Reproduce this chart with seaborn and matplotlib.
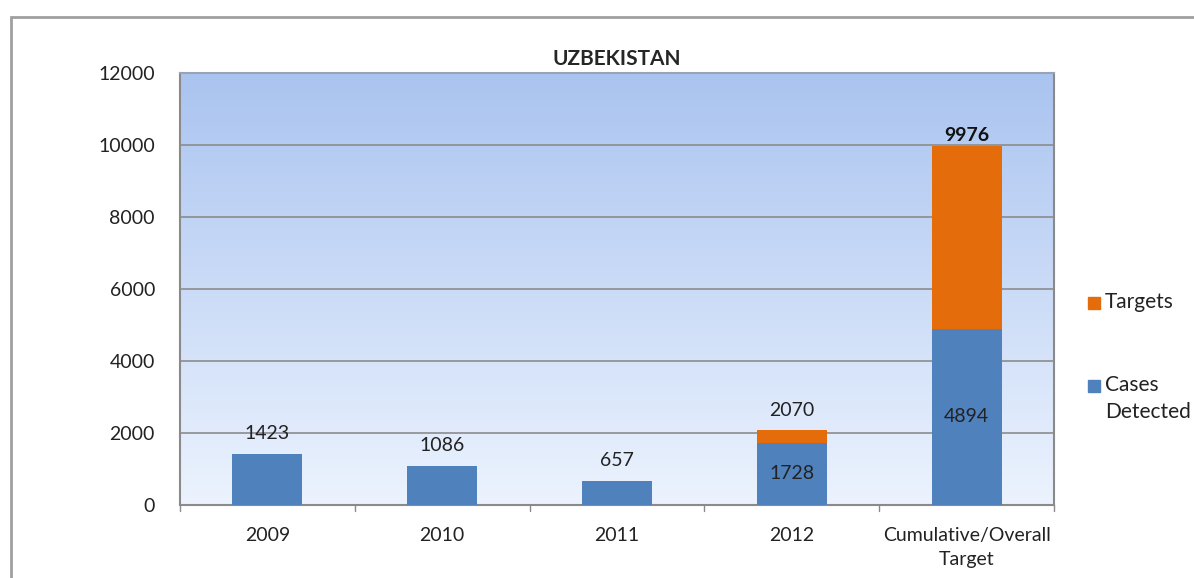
import numpy as np
import pandas as pd
import matplotlib
matplotlib.use("Agg")
import matplotlib.pyplot as plt
import seaborn as sns
from matplotlib.patches import Rectangle

categories = ["2009", "2010", "2011", "2012", "Cumulative/Overall\nTarget"]
cases_detected = [1423, 1086, 657, 1728, 4894]
totals = [1423, 1086, 657, 2070, 9976]  # top of each stacked bar (cases + targets)
series_names = ["Targets", "Cases\nDetected"]
series_colors = ["#E46C0A", "#4F81BD"]

df = pd.DataFrame({"cat": categories, "cases": cases_detected, "total": totals})

sns.set_theme(style="white")
plt.rcParams["font.family"] = ["Lato", "DejaVu Sans"]

fig = plt.figure(figsize=(11.94, 5.78), dpi=100)
ax = fig.add_axes([180 / 1194, 1 - 505 / 578, 874 / 1194, 432 / 578])

# gradient backdrop of plot area (light at bottom, darker blue at top)
grad = np.linspace(0, 1, 256).reshape(-1, 1)
top_c = np.array([170, 196, 240]) / 255
bot_c = np.array([236, 243, 254]) / 255
img = bot_c * (1 - grad[..., None]) + top_c * grad[..., None]
ax.imshow(img, extent=[-0.5, 4.5, 0, 12000], origin="lower", aspect="auto", zorder=0)

for y in range(2000, 12001, 2000):
    ax.axhline(y, color="#8c8c8c", lw=1.2, zorder=1)

sns.barplot(data=df, x="cat", y="total", color=series_colors[0], width=0.4,
            saturation=1, linewidth=0, edgecolor="none", ax=ax, zorder=2)
sns.barplot(data=df, x="cat", y="cases", color=series_colors[1], width=0.4,
            saturation=1, linewidth=0, edgecolor="none", ax=ax, zorder=3)

ax.set_xlim(-0.5, 4.5)
ax.set_ylim(0, 12000)
ax.set_yticks(range(0, 12001, 2000))
ax.set_xlabel("")
ax.set_ylabel("")
ax.tick_params(axis="both", labelsize=14, length=0)
ax.tick_params(axis="y", pad=18)
ax.tick_params(axis="x", pad=16)
for lbl in ax.get_yticklabels() + ax.get_xticklabels():
    lbl.set_color("#222222")
    lbl.set_linespacing(1.5)

for s in ax.spines.values():
    s.set_visible(True)
    s.set_color("#8a8a8a")
    s.set_linewidth(1.5)
ax.spines["top"].set_color("#9aa3b5")

# category separator ticks on the x axis
for xb in np.arange(-0.5, 4.6, 1):
    ax.plot([xb, xb], [0, -180], color="#8a8a8a", lw=1, clip_on=False, zorder=5)

# value labels
for i, (c, t) in enumerate(zip(cases_detected, totals)):
    if t == c:
        ax.text(i, c + 330, str(c), ha="center", va="bottom", fontsize=14, color="#222222", zorder=6)
    elif i < 4:
        ax.text(i, t + 330, str(t), ha="center", va="bottom", fontsize=14, color="#222222", zorder=6)
        ax.text(i, c / 2, str(c), ha="center", va="center", fontsize=14, color="#222222", zorder=6)
    else:
        ax.text(i, t + 40, str(t), ha="center", va="bottom", fontsize=14, fontweight="bold",
                color="#111111", zorder=6)
        ax.text(i, c / 2, str(c), ha="center", va="center", fontsize=14, color="#222222", zorder=6)

ax.set_title("UZBEKISTAN", fontsize=15, fontweight="bold", pad=6)

# legend, drawn by hand so that the two-line label stays left aligned
W, H = 1194, 578
for (name, col, ymid) in zip(series_names, series_colors, [303, 386]):
    fig.patches.append(Rectangle((1088 / W, 1 - (ymid + 6) / H), 12 / W, 12 / H,
                                 transform=fig.transFigure, color=col))
    fig.text(1105 / W, 1 - (ymid - 11) / H, name, ha="left", va="top", fontsize=15,
             color="#222222", linespacing=1.45)

# outer chart border
fig.patches.append(Rectangle((11 / W, -0.05), 1.1, 1 - 17 / H + 0.05,
                             transform=fig.transFigure, fill=False,
                             edgecolor="#a0a0a0", lw=2))

fig.savefig("out.png", dpi=100)
